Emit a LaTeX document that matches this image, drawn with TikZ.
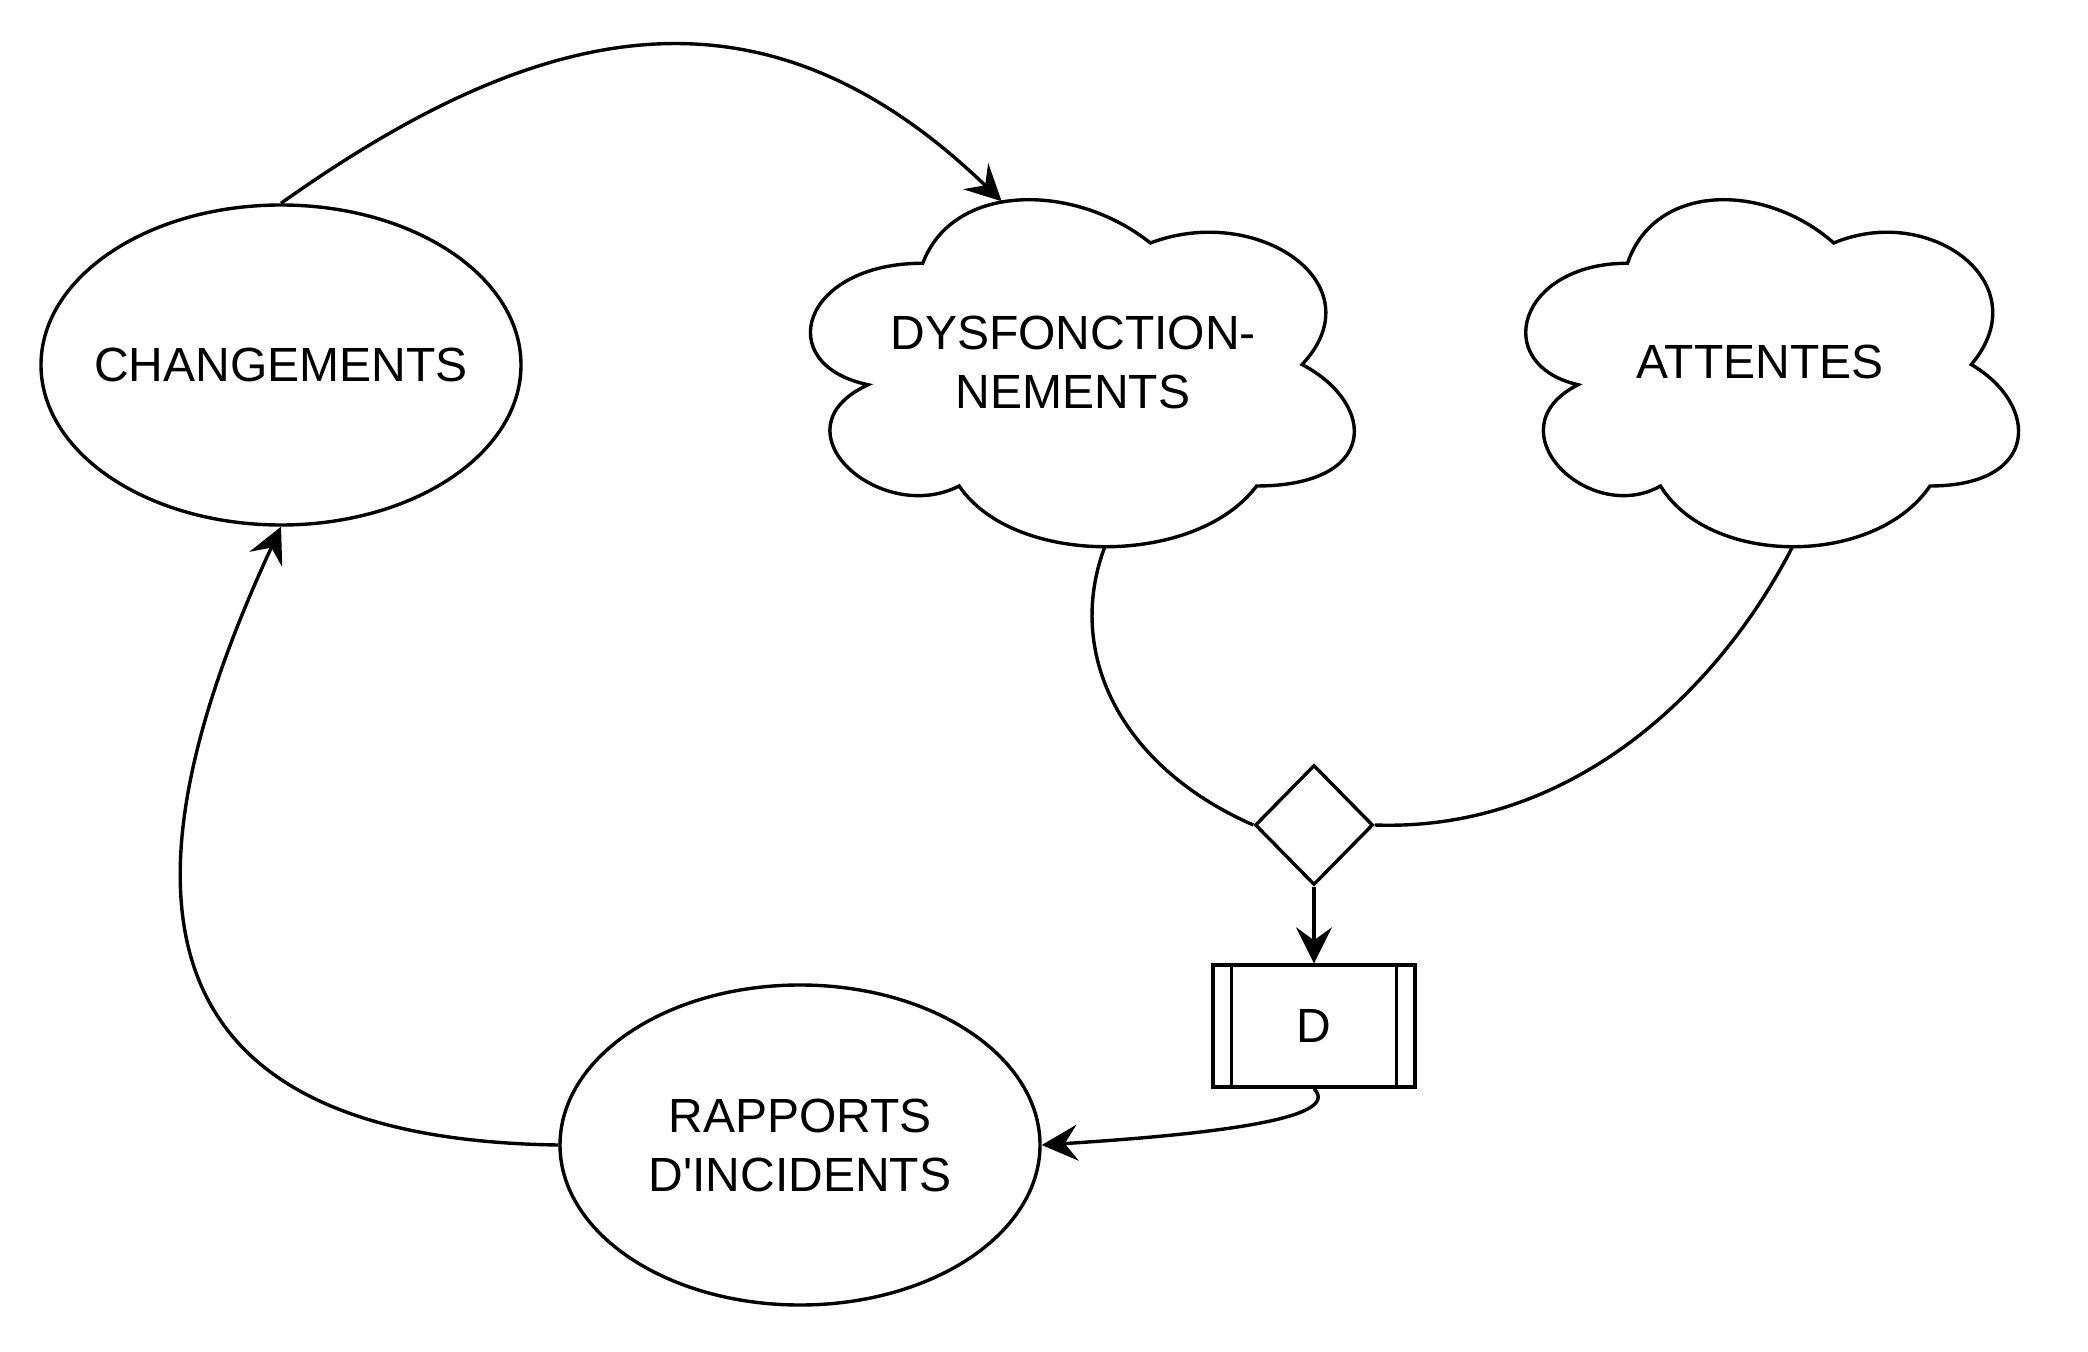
\documentclass[tikz,border=0pt]{standalone}
\usepackage{fontspec}
\setmainfont{Liberation Sans}
\usetikzlibrary{shapes.geometric,arrows.meta}

\tikzset{
  cloudpic/.pic={
    \draw (0.25,0.25) .. controls (0.05,0.25) and (0,0.5) .. (0.16,0.55)
      .. controls (0,0.66) and (0.18,0.9) .. (0.31,0.8)
      .. controls (0.4,1) and (0.7,1) .. (0.8,0.8)
      .. controls (1,0.8) and (1,0.6) .. (0.875,0.5)
      .. controls (1,0.3) and (0.8,0.1) .. (0.625,0.2)
      .. controls (0.5,0.05) and (0.3,0.05) .. (0.25,0.25) -- cycle;
    \coordinate (-top) at (0.38,0.097);
    \coordinate (-bot) at (0.55,0.95);
  }
}

\begin{document}
\begin{tikzpicture}[x=0.5pt, y=-0.5pt, line width=1.7pt,
    >={Stealth[length=18pt,width=18pt,inset=6.5pt]},
    lbl/.style={font=\fontsize{24}{29.5}\selectfont, align=center}]
    \useasboundingbox (0,0) rectangle (2088,1352);

    % Ellipses
    \node[ellipse,draw,minimum width=240pt,minimum height=160pt,inner xsep=-20pt,lbl] (chg) at (281,365) {CHANGEMENTS};
    \node[ellipse,draw,minimum width=240pt,minimum height=160pt,inner xsep=-20pt,lbl] (rap) at (800,1145) {RAPPORTS\\D\textquotesingle INCIDENTS};

    % Clouds
    \pic[shift={(771,162)},xscale=607,yscale=405] (dysf) {cloudpic};
    \node[lbl] (dysftxt) at (1073,362) {DYSFONCTION-\\NEMENTS};
    \pic[shift={(1490,162)},xscale=550,yscale=405] (att) {cloudpic};
    \node[lbl] (atttxt) at (1760,362) {ATTENTES};

    % Decision and process box
    \node[diamond,draw,minimum width=59pt,minimum height=60pt,inner sep=0pt] (gate) at (1314,825) {};
    \node[rectangle,draw,minimum width=101pt,minimum height=61pt,lbl] (dbox) at (1314,1026) {D};
    \draw ([xshift=10pt]dbox.north west) -- ([xshift=10pt]dbox.south west);
    \draw ([xshift=-10pt]dbox.north east) -- ([xshift=-10pt]dbox.south east);

    % Connectors
    \draw[->] (chg.north) .. controls (550,12) and (768,-24) .. (dysf-top);
    \draw (dysf-bot) .. controls (1065,652) and (1119,766) .. (gate.west);
    \draw (att-bot) .. controls (1718,692) and (1571,832) .. (gate.east);
    \draw[->] (gate.south) -- (dbox.north);
    \draw[->] (dbox.south) .. controls (1345,1120) and (1200,1135) .. (rap.east);
    \draw[->] (rap.west) .. controls (134,1139) and (112,891) .. (chg.south);
\end{tikzpicture}
\end{document}
